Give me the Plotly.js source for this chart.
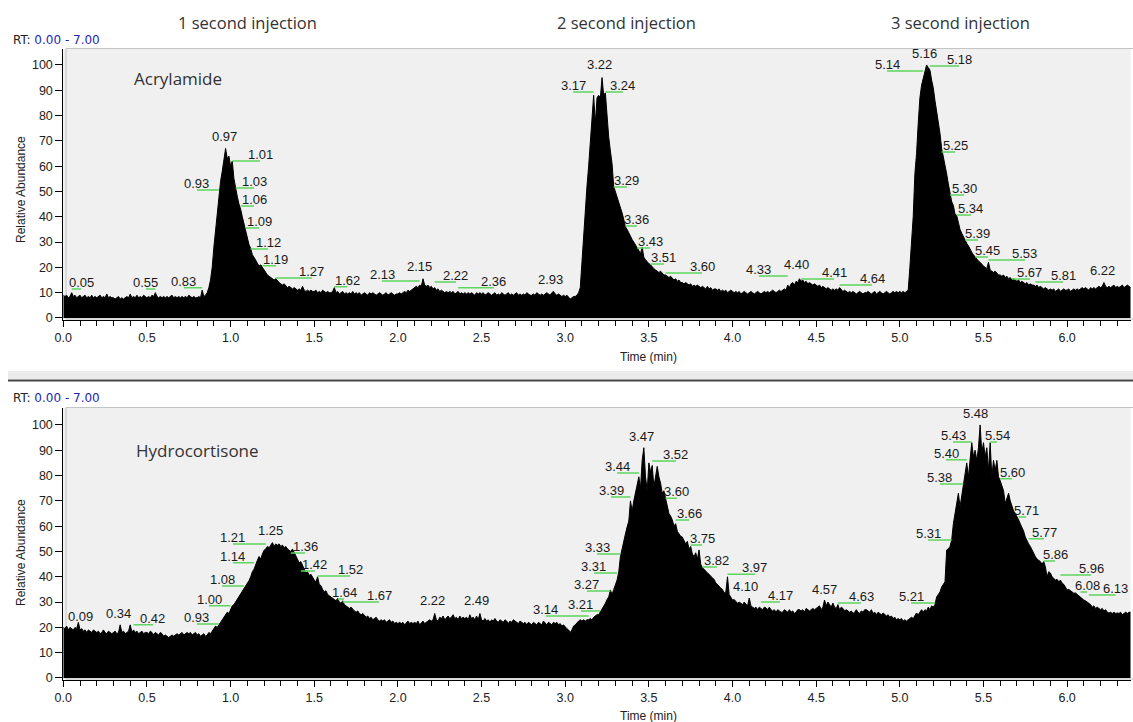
<!DOCTYPE html>
<html>
<head>
<meta charset="utf-8">
<script src="https://cdn.plot.ly/plotly-3.0.1.min.js"></script>
<style>html,body{margin:0;padding:0;background:#fff;}#chart{width:1133px;height:722px;}</style>
</head>
<body>
<div id="chart"></div>
<script>
// ---------------- DATA ----------------
// Scan interval of the chromatograms (minutes)
const scanStart = 0.0;
const scanStep = 0.01;

// Acrylamide relative abundance, one value per scan, 0.00 .. 6.38 min
const acrylamide = [
9,8.5,9,8,8.5,10,8.5,9,8,8.5,
9,8,8.5,9,8,8.5,8,9,8,8.5,
8,8.5,9,8,8.5,8,9.5,8,8.5,8,
8,7.5,8,8.5,7.5,8,7.5,8,8.5,8,
9.5,8,8.5,8,9,8,8.5,8,9,8.5,
8,8.5,8,9,8.5,10,8.5,8,8.5,8,
8.5,8,8.5,8,8.5,9,8,8.5,8,8.5,
8,8.5,8,8.5,8,9,8.5,8,8.5,8,
8,8.5,8,11,8.5,9,10,12,15,20,
28,35,42,50,54,58,62,67,63,64,
60,62,55,51,48,45,43,40,37,35,
32,29,27.5,25,24,23,21.5,20.5,21,20,
18.5,17.5,17,16.5,16,15.5,15,15.5,14.5,14,
13.5,13,13.5,12.5,12,12.5,12,11.5,12,11.5,
11,11.5,11,12.5,11,10.5,11,10.5,11,10.5,
10.5,11,10,10.5,10,11,10.5,10,10.5,10,
10,10.5,12,10,10.5,9.5,10,10.5,9.5,10,
9.5,10,9.5,10.5,9.5,10,9.5,10,9,9.5,
10,9.5,9,10,9.5,10,9.5,9,9.5,10,
9.5,9,9.5,10,9,9.5,10,9.5,9,9.5,
9.5,10,9.5,10,10.5,10,11,10.5,11,11.5,
12,12.5,12,13,12.5,15.5,13,12.5,13,12,
12.5,11.5,12,11,11.5,10.5,11,10.5,10,10.5,
10,10.5,10,10.5,9.5,10,10.5,9.5,10,9.5,
10,9.5,10,9.5,10,9.5,9,10,9.5,10,
9.5,10,9,9.5,10,9.5,9,9.5,10,9,
9.5,9,10,9.5,9,9.5,10,9,9.5,9,
9.5,10,9,9.5,9,9.5,9,10,9.5,9,
9,9.5,9,10,9.5,9,9.5,9,9.5,10,
9.5,9,10,10.5,9.5,9,9.5,9,8.5,9,
8.5,9,8,7.5,8,8.5,8.5,9,10,12,
22,33,44,52,60,70,80,88,77,87,
88,87,95,88,89,78,71.5,66,61,52,
50,48,46,44,41.5,39,36,35,33.5,32,
31,30,29,27.5,26.5,25.5,28,24,23,22,
21.5,21,20,19.5,19,18.5,18,18.5,17.5,17,
17,16.5,16,16.5,15.5,15,15.5,14.5,15,14,
14,13.5,14,13.5,13,13.5,12.5,13,12.5,13,
12.5,12,12.5,12,11.5,12.5,11.5,12,11,11.5,
11.5,11,11.5,10.5,11,10.5,11,10,10.5,11,
10.5,10,10.5,10,10.5,9.5,10,10.5,10,9.5,
10,10.5,10,9.5,10,10.5,10,9.5,10,10.5,
10,10.5,10,10.5,11,10.5,10,10.5,11,10.5,
11,11.5,11,13,12,13.5,14,13,14.5,14,
15.5,14.5,15,14,14.5,13.5,14,13.5,13,13.5,
13,12.5,13,12,12.5,12,11.5,12,11.5,11,
11.5,11,11.5,11,12,11,10.5,11,10.5,10,
10.5,10,10.5,10,9.5,10,10.5,10,9.5,10,
10,10.5,10,9.5,10,10.5,9.5,10,10.5,10,
9.5,10,10.5,10,9.5,10,10.5,10,10.5,10,
10.5,10,10.5,10,10.5,11,20,30,40,57,
65,77,87,92,95,98,100,99,98,94,
91,86,82,77,73,67,64,60,57,53,
49,46,44.5,41,40.5,37,35,33.5,32,30.5,
29.5,28.5,27,26,25,24,23.5,22.5,22,21,
20.5,20,19.5,22,19,18.5,18,18.5,17.5,17,
17,16.5,17,16,16.5,15.5,16,15,15.5,15,
14.5,15,14,14.5,14,13.5,14,13,13.5,13,
13,12.5,13,12,12.5,12,11.5,12,11.5,11,
11.5,11,11.5,10.5,11,11.5,10.5,11,11.5,11,
11,11.5,10.5,11,11.5,11,11.5,11,11.5,12,
11.5,12,11.5,11,12,11.5,12,11.5,12,12.5,
12,12.5,14,12.5,12,12.5,12,12.5,13,12,
12.5,12,12.5,13,12,12.5,13,12.5,12
];

// Hydrocortisone relative abundance, one value per scan, 0.00 .. 6.38 min
const hydrocortisone = [
20,19.5,20.5,19,20,19.5,19,20,19.5,22,
19,19.5,18.5,19,18,19,18.5,18,19,18.5,
18,18.5,17.5,18,19,18,17.5,18.5,18,17.5,
18,18.5,17.5,18,21,18,18.5,17.5,18,18.5,
21,18,19,18,18.5,17.5,18,18.5,17.5,18,
18,17.5,18.5,18,17,18,17.5,17,18,17.5,
16.5,17,16.5,16,16.5,17,16.5,17,17.5,17,
17.5,18,17,17.5,18,17.5,18,17,17.5,18,
17,17.5,16.5,17,17.5,16.5,17,18,17.5,18.5,
19.5,20.5,20,21,22.5,23,24,25,26,25.5,
27,28.5,29,30,31,32,33,34,35,36.5,
37.5,38.5,40,42,43,45,46.5,48,47,49,
50.5,51,52,51.5,52.5,53.5,52,53,52.5,53,
52,52.5,51.5,52,51,50.5,50,51,49.5,48.5,
47,45.5,46,44.5,42.5,41.5,42,40.5,41,39.5,
38.7,38,40,37,36.5,35,34,34.5,33,32.5,
32,31.5,31,30.5,31.5,30,29.5,30.5,29,28.5,
28,27.5,28,27,26.5,26,26.5,25.5,25,25.5,
24.5,24,24.5,23.5,24,23,23.5,24,23,22.5,
23,22.5,23,22,22.5,23,22,22.5,21.5,22,
21.5,22,21.5,22,21,22,22.5,21.5,22,21.5,
22,21.5,22.5,21,22,22.5,21.5,22,22.5,23,
22.5,23,25.5,23,22.5,24,23.5,24.5,23,24,
24.5,23.5,24,25,23.5,24,23,24.5,23.5,24,
23.5,24,23,25,23.5,24,23,24.5,23,25.5,
23,22.5,23.5,22.5,23,22,23,22.5,23.5,22.5,
22,23,22.5,22,23,22.5,21.5,22.5,22,23,
22.5,22,21.5,22.5,22,21.5,22,21,22,21.5,
21,22,21.5,21,22,21.5,21,22.5,21.5,21,
22,21.5,21,22,21.5,22,21,21.5,20.5,21,
20,19.5,19,18,19,20.5,21,22,22.5,23,
22.5,23,22.5,23,23,23.5,23,24,24.5,25,
25,26,27,28,29.5,31,32,34.8,33,35,
37,38.7,42,48,51,54.5,57,59.7,62,70,
66,70,73,76,79.5,75,86,91,79.5,74,
85,81.5,84,75.5,80,83.6,79.5,77,73,74,
71,68,65,64,62.5,60,61,58,57,56,
55.7,54,53,54,51,52,49,48,49.5,47,
50.6,45,43.5,43,42,41.5,41,40,39.5,39,
37.5,37,36,35.5,35,33.6,34,40,33,32,
30.8,31,30,29.5,30,29.6,29,30,29,28.5,
31.6,28.5,28,27.5,28,27,28,27.5,27,28,
27.7,27,28,27,26.5,27,26,27,26.5,26,
26,27,26.5,26,27,26,26.5,25.5,26,27,
27,26.5,27,26,27.5,27,26.5,27,27.5,27,
27.7,28,28.5,27,28,30.8,28.5,30,29,28,
29.6,28,27.5,29,27,28,27.5,26.5,27,26.5,
26,26.5,25.5,26,27,26,25.5,26.5,26,27,
27,26.5,26,27,25.5,26,25,26,25.5,25,
25.7,25,24.5,25,24,24.5,23.5,24,23,23.5,
23,23.5,22.5,23,22.5,23,23.5,24,23.5,24.5,
25.7,25,26,27,26,27,26.5,28,27,28.5,
28,29,32,33,34,36,37,38,50.6,51,
52,54.5,61,65,69,73,67.6,72,77,80,
85,79.5,86,93,87.5,90,86,91,100,89,
93,87.5,91,82,93,79.5,86,82,86,79.5,
78,76,74,69,71,73,70,67.6,66,65,
64,62.5,61,59.7,58,55.7,54,53,52,50.6,
49,48,47,46.6,46,45,46,44,40,42,
41.5,40,39.5,38.7,39,38,38.7,37.5,37,36,
34.8,35,34.5,34,33.5,33.6,33,32.5,32,31.5,
30.8,30.5,30,29.5,29,28,28.5,27.5,28,27.5,
27,27.5,26.5,27,26,25.7,26,25.5,26,25.5,
25.7,25.5,26,25,25.5,26,25.5,26,26
];

// Peak retention-time labels (minutes) and the abundance level they sit at
const acrLabelRT = [0.05,0.55,0.83,0.93,0.97,1.01,1.03,1.06,1.09,1.12,1.19,1.27,1.62,2.13,2.15,2.22,2.36,2.93,3.17,3.22,3.24,3.29,3.36,3.43,3.51,3.60,4.33,4.40,4.41,4.64,5.14,5.16,5.18,5.25,5.30,5.34,5.39,5.45,5.53,5.67,5.81,6.22];
const acrLabelLevel = [11.5,11.5,11.9,50.6,69,62,51.4,44.3,35.6,27.3,20.6,15.8,12.3,14.6,17.8,14.2,11.9,12.6,89.3,97.6,89.3,51.8,36.4,27.7,21.3,17.8,16.6,18.6,15.4,13,97.6,102,99.6,65.6,48.6,40.7,30.8,24.1,22.9,15.4,14.2,16.2];
const hydLabelRT = [0.09,0.34,0.42,0.93,1.00,1.08,1.14,1.21,1.25,1.36,1.42,1.52,1.64,1.67,2.22,2.49,3.14,3.21,3.27,3.31,3.33,3.39,3.44,3.47,3.52,3.60,3.66,3.75,3.82,3.97,4.10,4.17,4.57,4.63,5.21,5.31,5.38,5.40,5.43,5.48,5.54,5.60,5.71,5.77,5.86,5.96,6.08,6.13];
const hydLabelLevel = [21.7,23,21,21.3,28.5,36.4,45.5,53,55.7,49.4,42.3,40.3,31.2,30,28,28,24.5,26.5,34.4,41.5,49,71.5,81,93,85.8,71,62.4,52.6,43.9,41,33.6,30,32.4,29.6,29.6,54.5,76.7,86.2,93.3,102,93.3,78.7,63.6,55,46.2,40.7,34,32.8];

// Label placement (layout only): x of each label text centre, in minutes
const acrLabelPos = [0.106,0.494,0.721,0.799,0.961,1.176,1.14,1.14,1.17,1.224,1.271,1.486,1.696,1.905,2.132,2.347,2.574,2.915,3.047,3.202,3.345,3.369,3.429,3.507,3.59,3.818,4.158,4.385,4.607,4.834,4.924,5.145,5.354,5.33,5.384,5.425,5.467,5.527,5.748,5.778,5.976,6.209];
const hydLabelPos = [0.1,0.327,0.536,0.799,0.871,0.949,1.014,1.014,1.241,1.445,1.504,1.714,1.678,1.887,2.204,2.467,2.885,3.094,3.13,3.172,3.19,3.274,3.31,3.453,3.662,3.668,3.74,3.818,3.907,4.134,4.075,4.284,4.547,4.768,5.067,5.169,5.24,5.276,5.318,5.455,5.581,5.671,5.755,5.862,5.928,6.143,6.12,6.29];

const compoundNames = ["Acrylamide", "Hydrocortisone"];
const injectionTitles = ["1 second injection", "2 second injection", "3 second injection"];
const rtRangeText = "0.00 - 7.00";
const xTitle = "Time (min)";
const yTitle = "Relative Abundance";

// ---------------- CHART ----------------
const W = 1133, H = 722;
const px = v => v / W;
const py = v => 1 - v / H;
const FONT = "Liberation Sans, Arial, sans-serif";
const TITLEFONT = "Open Sans, Noto Sans, sans-serif";

const traces = [
  {type:'scatter', mode:'lines', x0:scanStart, dx:scanStep, y:acrylamide, xaxis:'x', yaxis:'y',
   fill:'tozeroy', fillcolor:'#000', line:{color:'#000', width:1}, hoverinfo:'skip'},
  {type:'scatter', mode:'lines', x0:scanStart, dx:scanStep, y:hydrocortisone, xaxis:'x2', yaxis:'y2',
   fill:'tozeroy', fillcolor:'#000', line:{color:'#000', width:1}, hoverinfo:'skip'}
];

const xDom = [px(63.3), px(1130.7)];
function xAxis(anchor){
  return {domain:xDom, anchor:anchor, range:[0,6.38], showgrid:false, zeroline:false,
    showline:true, linecolor:'#000', linewidth:1, ticks:'outside', ticklen:6, tickcolor:'#000',
    tick0:0, dtick:0.5, tickformat:'.1f', tickfont:{family:FONT, size:12.5, color:'#222'},
    minor:{dtick:0.1, ticks:'outside', ticklen:5, tickcolor:'#000', showgrid:false},
    fixedrange:true};
}
function yAxis(anchor, dom, top){
  return {domain:dom, anchor:anchor, range:[-0.6, top], showgrid:false, zeroline:false,
    showline:true, linecolor:'#000', linewidth:1, ticks:'outside', ticklen:7, tickcolor:'#000',
    tick0:0, dtick:10, tickfont:{family:FONT, size:12.5, color:'#222'}, fixedrange:true};
}

const annotations = [];
const shapes = [];

function addLabels(rts, levels, pos, xr, yr){
  for (let i = 0; i < rts.length; i++){
    annotations.push({xref:xr, yref:yr, x:pos[i], y:levels[i], yanchor:'bottom', xanchor:'center',
      text:rts[i].toFixed(2), showarrow:false, yshift:-2, borderpad:0,
      font:{family:FONT, size:13, color:'#1a1a1a'}});
    if (Math.abs(pos[i] - rts[i]) > 0.03){
      shapes.push({type:'line', xref:xr, yref:yr, x0:rts[i], x1:pos[i], y0:levels[i], y1:levels[i],
        line:{color:'#5cd65c', width:1.5}});
    }
  }
}
addLabels(acrLabelRT, acrLabelLevel, acrLabelPos, 'x', 'y');
addLabels(hydLabelRT, hydLabelLevel, hydLabelPos, 'x2', 'y2');

// injection headers
const headerX = [247, 626, 960];
injectionTitles.forEach((t, i) => annotations.push({xref:'paper', yref:'paper', x:px(headerX[i]), y:py(22.5),
  text:t, showarrow:false, xanchor:'center', yanchor:'middle', font:{family:TITLEFONT, size:16.5, color:'#333'}}));

// compound names
annotations.push({xref:'paper', yref:'paper', x:px(178), y:py(79), text:compoundNames[0], showarrow:false,
  xanchor:'center', yanchor:'middle', font:{family:TITLEFONT, size:17, color:'#333'}});
annotations.push({xref:'paper', yref:'paper', x:px(197), y:py(450), text:compoundNames[1], showarrow:false,
  xanchor:'center', yanchor:'middle', font:{family:TITLEFONT, size:17, color:'#333'}});

// RT range text
[40, 398].forEach(yy => annotations.push({xref:'paper', yref:'paper', x:px(11), y:py(yy), xanchor:'left', yanchor:'middle',
  text:'RT: <span style="color:#1f1fb4">' + rtRangeText + '</span>', showarrow:false,
  font:{family:"DejaVu Sans, Verdana, sans-serif", size:12, color:'#222'}}));

// axis titles
[357, 716].forEach(yy => annotations.push({xref:'paper', yref:'paper', x:px(648), y:py(yy), xanchor:'center', yanchor:'middle',
  text:xTitle, showarrow:false, font:{family:FONT, size:12, color:'#222'}}));
[190, 553].forEach(yy => annotations.push({xref:'paper', yref:'paper', x:px(21), y:py(yy), xanchor:'center', yanchor:'middle',
  text:yTitle, textangle:-90, showarrow:false, font:{family:FONT, size:12, color:'#222'}}));

// panel frame borders and separator
shapes.push({type:'rect', xref:'paper', yref:'paper', x0:px(66), x1:px(1135), y0:py(319), y1:py(48.5),
  line:{color:'#c4c4c4', width:1}, layer:'below'});
shapes.push({type:'rect', xref:'paper', yref:'paper', x0:px(66), x1:px(1135), y0:py(679), y1:py(407.5),
  line:{color:'#c4c4c4', width:1}, layer:'below'});
shapes.push({type:'rect', xref:'paper', yref:'paper', x0:px(8), x1:1, y0:py(379), y1:py(371),
  fillcolor:'#ebebeb', line:{width:0}});
shapes.push({type:'line', xref:'paper', yref:'paper', x0:px(8), x1:1, y0:py(380.5), y1:py(380.5),
  line:{color:'#444', width:2}});

const layout = {
  width:W, height:H, margin:{l:0, r:0, t:0, b:0},
  paper_bgcolor:'#ffffff', plot_bgcolor:'#f0f0f0',
  showlegend:false, hovermode:false,
  xaxis: xAxis('y'),
  yaxis: yAxis('x', [py(319.5), py(49)], 106.3),
  xaxis2: xAxis('y2'),
  yaxis2: yAxis('x2', [py(679.5), py(408)], 106.7),
  annotations: annotations,
  shapes: shapes
};

Plotly.newPlot('chart', traces, layout, {staticPlot:true, displayModeBar:false});
</script>
</body>
</html>
